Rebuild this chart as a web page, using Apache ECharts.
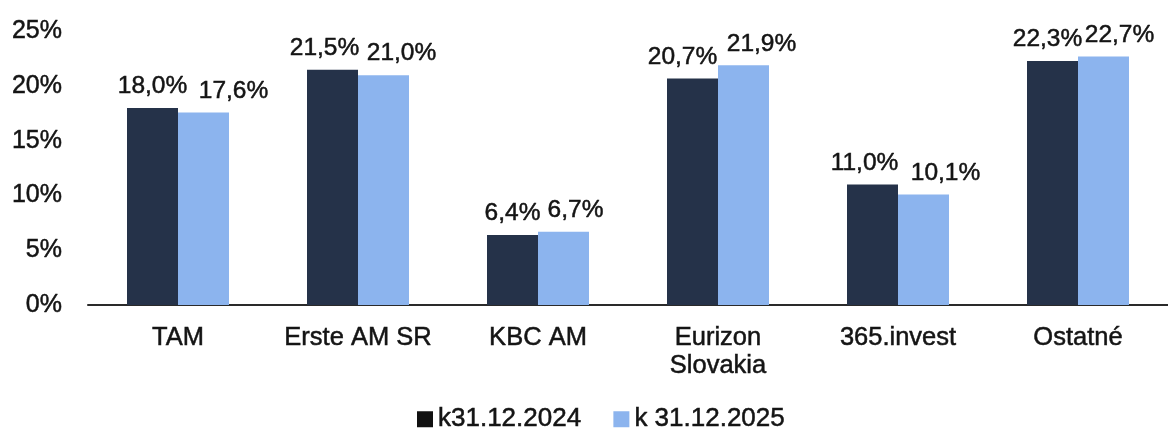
<!DOCTYPE html>
<html>
<head>
<meta charset="utf-8">
<script src="https://cdn.jsdelivr.net/npm/echarts@6/dist/echarts.min.js"></script>
<style>html,body{margin:0;padding:0;background:#fff}#c{width:1168px;height:430px}</style>
</head>
<body>
<div id="c"></div>
<script>
var categories = ['TAM', 'Erste AM SR', 'KBC AM', 'Eurizon\nSlovakia', '365.invest', 'Ostatné'];
var seriesNames = ['k31.12.2024', 'k 31.12.2025'];
var values2024 = [18.0, 21.5, 6.4, 20.7, 11.0, 22.3];
var values2025 = [17.6, 21.0, 6.7, 21.9, 10.1, 22.7];
var yTicks = [0, 5, 10, 15, 20, 25];

// horizontal nudges of the value labels (layout only, as in the original)
var labelShift2024 = [0, -8, 0, -10, -8, -5];
var labelShift2025 = [30, 18, 12, 18, 22, 16];

var FONT = 'Liberation Sans, Arial, sans-serif';
var TXT = '#141414';
var STROKE = {textBorderColor: TXT, textBorderWidth: 0.5};
function fmt(v) { return v.toFixed(1).replace('.', ',') + '%'; }

var chart = echarts.init(document.getElementById('c'), null, {renderer: 'canvas'});
function barSeries(name, data, color, shifts) {
  return {
    name: name,
    type: 'bar',
    data: data.map(function (v, i) {
      return {value: v, label: {offset: [shifts[i], 0]}};
    }),
    barWidth: 51,
    barGap: '0%',
    itemStyle: {color: color},
    label: Object.assign({
      show: true,
      position: 'top',
      distance: 9,
      color: TXT,
      fontFamily: FONT,
      fontSize: 24.5,
      formatter: function (p) { return fmt(p.value); }
    }, STROKE)
  };
}
chart.setOption({
  animation: false,
  grid: {left: 88, right: 0, top: 31.4, bottom: 125, containLabel: false},
  legend: {
    data: [
      {name: seriesNames[0], itemStyle: {color: '#111111'}},
      {name: seriesNames[1]}
    ],
    left: 417,
    top: 406,
    padding: 0,
    icon: 'rect',
    itemWidth: 16,
    itemHeight: 16,
    itemGap: 32,
    textStyle: Object.assign({color: TXT, fontFamily: FONT, fontSize: 26, padding: [0, 0, 0, 0]}, STROKE)
  },
  xAxis: {
    type: 'category',
    data: categories,
    axisLine: {show: true, lineStyle: {color: '#2a2a2a', width: 2}},
    axisTick: {show: false},
    axisLabel: Object.assign({interval: 0, color: TXT, fontFamily: FONT, fontSize: 25.5, lineHeight: 28, margin: 19}, STROKE)
  },
  yAxis: {
    type: 'value',
    min: yTicks[0],
    max: yTicks[yTicks.length - 1],
    interval: yTicks[1] - yTicks[0],
    splitLine: {show: false},
    axisLine: {show: false},
    axisTick: {show: false},
    axisLabel: Object.assign({color: TXT, fontFamily: FONT, fontSize: 25, margin: 26, formatter: '{value}%'}, STROKE)
  },
  series: [
    barSeries(seriesNames[0], values2024, '#253249', labelShift2024),
    barSeries(seriesNames[1], values2025, '#8cb4ee', labelShift2025)
  ]
});
</script>
</body>
</html>
